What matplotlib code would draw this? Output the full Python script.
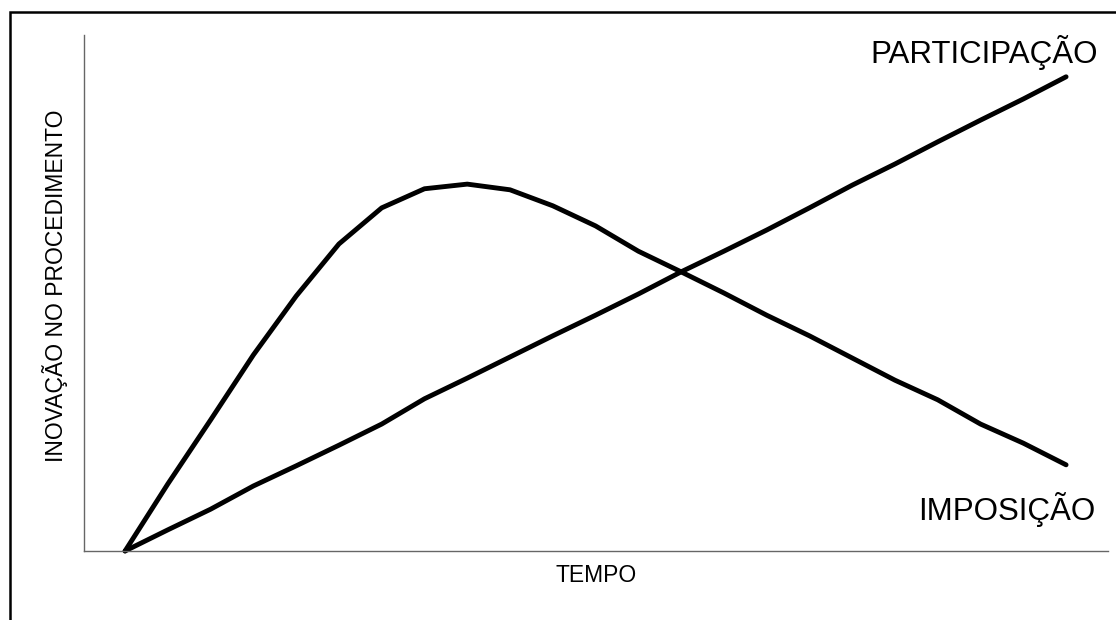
"""
Innovation in procedure over time: participation vs. imposition.
Outputs: out.png
"""
import matplotlib.pyplot as plt
from matplotlib.patches import Rectangle

plt.rcParams['font.family'] = ['Liberation Sans', 'DejaVu Sans']

# time steps (arbitrary units) and curve values
tempo = list(range(23))
participacao = [0, 4.1, 8.1, 12.6, 16.5, 20.5, 24.6, 29.5, 33.5, 37.6, 41.7, 45.7,
                49.8, 54.1, 58.1, 62.2, 66.5, 70.9, 75.0, 79.3, 83.5, 87.6, 91.9]
imposicao = [0, 13.0, 25.4, 38.0, 49.4, 59.5, 66.5, 70.2, 71.1, 70.0, 66.9, 63.0,
             58.1, 54.1, 50.0, 45.7, 41.7, 37.4, 33.1, 29.3, 24.6, 20.9, 16.7]

W, H = 1116, 620
fig = plt.figure(figsize=(W / 100, H / 100), dpi=100)

# frame around the whole picture (runs off the right and bottom edges)
fig.patches.append(Rectangle((10 / W, -0.1), 1.2, 1.1 - 12 / H,
                             transform=fig.transFigure, fill=False,
                             edgecolor='black', linewidth=1.8))

ax = fig.add_axes([84 / W, 1 - 551 / H, (1108 - 84) / W, (551 - 35) / H])

style = dict(color='black', linewidth=3.5, solid_capstyle='round',
             solid_joinstyle='round', clip_on=False)
ax.plot(tempo, participacao, **style)
ax.plot(tempo, imposicao, **style)

ax.set_xlim(-0.96, 22.98)
ax.set_ylim(0, 100)
ax.set_xticks([])
ax.set_yticks([])
for side in ('top', 'right'):
    ax.spines[side].set_visible(False)
for side in ('left', 'bottom'):
    ax.spines[side].set_color('#666666')
    ax.spines[side].set_linewidth(1.0)

# curve names
fig.text(1098 / W, 1 - 63 / H, 'PARTICIPAÇÃO', fontsize=22.5,
         ha='right', va='baseline')
fig.text(1095 / W, 1 - 520 / H, 'IMPOSIÇÃO', fontsize=22.5,
         ha='right', va='baseline')

# axis titles
fig.text(596 / W, 1 - 582 / H, 'TEMPO', fontsize=16.5,
         ha='center', va='baseline')
fig.text(63.5 / W, 1 - 285.5 / H, 'INOVAÇÃO NO PROCEDIMENTO', fontsize=16.5,
         rotation=90, rotation_mode='anchor', ha='center', va='baseline')

plt.savefig('out.png', dpi=100)
plt.close()
